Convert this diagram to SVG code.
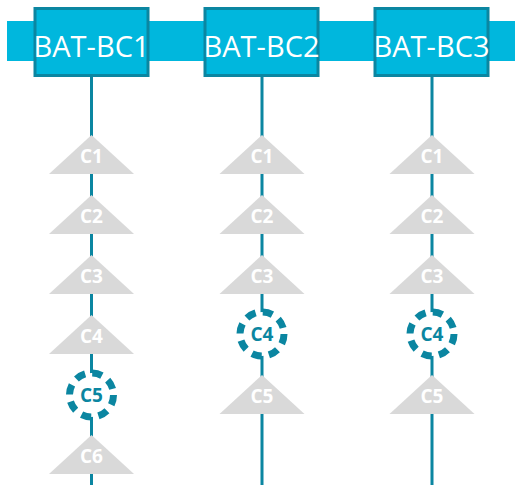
<svg xmlns="http://www.w3.org/2000/svg" width="515" height="485" viewBox="0 0 515 485">
<style>
.box{fill:#00b7dd;stroke:#0b86a1;stroke-width:3}
.bl{font-family:"Open Sans","Noto Sans",sans-serif;font-size:29px;fill:#fff;text-anchor:middle}
.tri{fill:#d9d9d9}
.tl{font-family:"Open Sans","Noto Sans",sans-serif;font-size:19px;font-weight:bold;fill:#fff;text-anchor:middle}
.ln{stroke:#0b86a1;stroke-width:3;fill:none}
.cir{fill:#fff;stroke:#0b86a1;stroke-width:7;stroke-dasharray:10 7.3}
.cl{font-family:"Open Sans","Noto Sans",sans-serif;font-size:19px;font-weight:bold;fill:#0b86a1;text-anchor:middle}
</style>
<rect x="7" y="21" width="508" height="40" fill="#00b7dd"/>
<g id="connectors">
<line class="ln" x1="91.5" y1="77" x2="91.5" y2="485"/>
<line class="ln" x1="262" y1="77" x2="262" y2="485"/>
<line class="ln" x1="432" y1="77" x2="432" y2="485"/>
</g>
<g id="BAT-BC1"><rect class="box" x="35" y="8.5" width="113" height="67"/><text class="bl" x="91.5" y="57">BAT-BC1</text></g>
<g id="BAT-BC2"><rect class="box" x="205" y="8.5" width="113" height="67"/><text class="bl" x="261.5" y="57">BAT-BC2</text></g>
<g id="BAT-BC3"><rect class="box" x="375" y="8.5" width="113" height="67"/><text class="bl" x="431.5" y="57">BAT-BC3</text></g>

<g id="c1-1"><polygon class="tri" points="91.5,135 134,174 49,174"/><text class="tl" x="91.5" y="163">C1</text></g>
<g id="c1-2"><polygon class="tri" points="91.5,195 134,234 49,234"/><text class="tl" x="91.5" y="223">C2</text></g>
<g id="c1-3"><polygon class="tri" points="91.5,255 134,294 49,294"/><text class="tl" x="91.5" y="283">C3</text></g>
<g id="c1-4"><polygon class="tri" points="91.5,315 134,354 49,354"/><text class="tl" x="91.5" y="343">C4</text></g>
<g id="c1-5"><circle class="cir" cx="91.5" cy="395" r="22"/><text class="cl" x="91.5" y="401.5">C5</text></g>
<g id="c1-6"><polygon class="tri" points="91.5,435 134,474 49,474"/><text class="tl" x="91.5" y="463">C6</text></g>

<g id="c2-1"><polygon class="tri" points="262,135 304.5,174 219.5,174"/><text class="tl" x="262" y="163">C1</text></g>
<g id="c2-2"><polygon class="tri" points="262,195 304.5,234 219.5,234"/><text class="tl" x="262" y="223">C2</text></g>
<g id="c2-3"><polygon class="tri" points="262,255 304.5,294 219.5,294"/><text class="tl" x="262" y="283">C3</text></g>
<g id="c2-4"><circle class="cir" cx="262" cy="334" r="22"/><text class="cl" x="262" y="340.5">C4</text></g>
<g id="c2-5"><polygon class="tri" points="262,375 304.5,414 219.5,414"/><text class="tl" x="262" y="403">C5</text></g>

<g id="c3-1"><polygon class="tri" points="432,135 474.5,174 389.5,174"/><text class="tl" x="432" y="163">C1</text></g>
<g id="c3-2"><polygon class="tri" points="432,195 474.5,234 389.5,234"/><text class="tl" x="432" y="223">C2</text></g>
<g id="c3-3"><polygon class="tri" points="432,255 474.5,294 389.5,294"/><text class="tl" x="432" y="283">C3</text></g>
<g id="c3-4"><circle class="cir" cx="432" cy="334" r="22"/><text class="cl" x="432" y="340.5">C4</text></g>
<g id="c3-5"><polygon class="tri" points="432,375 474.5,414 389.5,414"/><text class="tl" x="432" y="403">C5</text></g>
</svg>
